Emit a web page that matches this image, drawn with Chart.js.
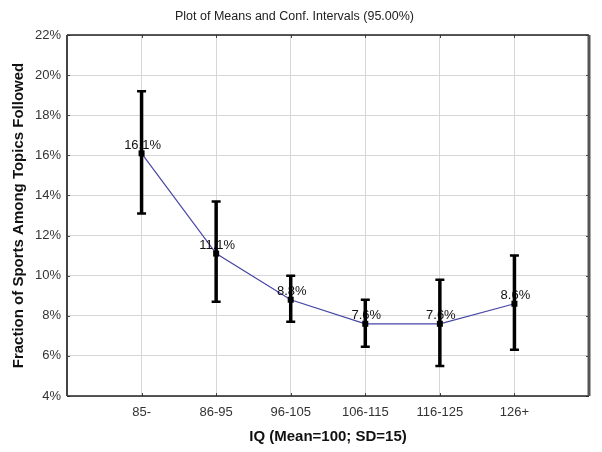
<!DOCTYPE html>
<html>
<head>
<meta charset="utf-8">
<script src="https://cdn.jsdelivr.net/npm/chart.js@4"></script>
<style>
  html, body { margin: 0; padding: 0; background: #fff; }
  #wrap { width: 602px; height: 452px; }
</style>
</head>
<body>
<div id="wrap"><canvas id="means-chart" width="602" height="452"></canvas></div>
<script>
// data
const groups = ["85-", "86-95", "96-105", "106-115", "116-125", "126+"];
const means = [16.1, 11.1, 8.8, 7.6, 7.6, 8.6];
const upper = [19.2, 13.7, 10.0, 8.8, 9.8, 11.0];
const lower = [13.1, 8.7, 7.7, 6.45, 5.5, 6.3];
const yTicks = [4, 6, 8, 10, 12, 14, 16, 18, 20, 22];

const points = means.map((v, i) => ({ x: i + 1, y: v }));
const FONT = "'Liberation Sans', Arial, sans-serif";

// error bars, value labels and frame
const meanPlot = {
  id: "meanPlot",
  afterDatasetsDraw(chart) {
    const ctx = chart.ctx;
    const xs = chart.scales.x;
    const ys = chart.scales.y;
    const a = chart.chartArea;
    ctx.save();

    // value labels (drawn first, bars go over them)
    ctx.font = "13px " + FONT;
    ctx.fillStyle = "#111";
    ctx.textAlign = "center";
    ctx.textBaseline = "middle";
    means.forEach((v, i) => {
      const px = xs.getPixelForValue(i + 1);
      const py = ys.getPixelForValue(v);
      ctx.fillText(v.toFixed(1) + "%", px + 1, py - 8);
    });

    // whiskers
    ctx.strokeStyle = "#000";
    groups.forEach((g, i) => {
      const px = xs.getPixelForValue(i + 1);
      const top = ys.getPixelForValue(upper[i]);
      const bot = ys.getPixelForValue(lower[i]);
      ctx.lineWidth = 3.5;
      ctx.beginPath();
      ctx.moveTo(px, top);
      ctx.lineTo(px, bot);
      ctx.stroke();
      ctx.lineWidth = 2.5;
      ctx.beginPath();
      ctx.moveTo(px - 4.5, top);
      ctx.lineTo(px + 4.5, top);
      ctx.moveTo(px - 4.5, bot);
      ctx.lineTo(px + 4.5, bot);
      ctx.stroke();
      // mean marker
      const py = ys.getPixelForValue(means[i]);
      ctx.fillStyle = "#000";
      ctx.fillRect(px - 3, py - 3, 6, 6);
    });

    // small inward ticks
    ctx.strokeStyle = "#444";
    ctx.lineWidth = 1;
    ctx.beginPath();
    for (let i = 1; i <= groups.length; i++) {
      const px = Math.round(xs.getPixelForValue(i)) + 0.5;
      ctx.moveTo(px, a.bottom); ctx.lineTo(px, a.bottom - 3);
      ctx.moveTo(px, a.top); ctx.lineTo(px, a.top + 3);
    }
    yTicks.forEach((t) => {
      const py = Math.round(ys.getPixelForValue(t)) + 0.5;
      ctx.moveTo(a.left, py); ctx.lineTo(a.left + 3, py);
      ctx.moveTo(a.right, py); ctx.lineTo(a.right - 3, py);
    });
    ctx.stroke();

    // frame round the plot area
    ctx.lineWidth = 1.5;
    ctx.strokeStyle = "#222";
    ctx.beginPath();
    ctx.moveTo(a.left, a.top); ctx.lineTo(a.right, a.top);
    ctx.moveTo(a.left, a.bottom); ctx.lineTo(a.right, a.bottom);
    ctx.stroke();
    ctx.lineWidth = 2;
    ctx.strokeStyle = "#444";
    ctx.beginPath();
    ctx.moveTo(a.left, a.top); ctx.lineTo(a.left, a.bottom);
    ctx.stroke();
    ctx.lineWidth = 3;
    ctx.strokeStyle = "#555";
    ctx.beginPath();
    ctx.moveTo(a.right, a.top); ctx.lineTo(a.right, a.bottom);
    ctx.stroke();
    ctx.restore();
  },
};

const ctx = document.getElementById("means-chart").getContext("2d");
new Chart(ctx, {
  type: "line",
  data: {
    datasets: [
      {
        data: points,
        borderColor: "#4646a6",
        borderWidth: 1.2,
        pointRadius: 0,
        fill: false,
        tension: 0,
      },
    ],
  },
  options: {
    responsive: false,
    animation: false,
    layout: { padding: { right: 13, left: 0, bottom: 0, top: 0 } },
    plugins: {
      legend: { display: false },
      tooltip: { enabled: false },
      title: {
        display: true,
        text: "Plot of Means and Conf. Intervals (95.00%)",
        color: "#222",
        font: { family: FONT, size: 12.5, weight: "normal" },
        padding: { top: 9, bottom: 11 },
      },
    },
    scales: {
      x: {
        type: "linear",
        min: 0,
        max: 7,
        afterFit: (scale) => { scale.height = 56; },
        afterBuildTicks: (scale) => {
          scale.ticks = [0, 1, 2, 3, 4, 5, 6, 7].map((v) => ({ value: v }));
        },
        ticks: {
          color: "#333",
          font: { family: FONT, size: 13 },
          padding: 9,
          maxRotation: 0,
          autoSkip: false,
          callback: (v) => groups[v - 1] || "",
        },
        grid: { color: "#d6d6d6", lineWidth: 1, drawTicks: false },
        border: { display: false },
        title: {
          display: true,
          text: "IQ (Mean=100; SD=15)",
          color: "#111",
          font: { family: FONT, size: 15, weight: "bold" },
          padding: { top: 4, bottom: 6 },
        },
      },
      y: {
        min: 4,
        max: 22,
        afterFit: (scale) => { scale.width = 67; },
        afterBuildTicks: (scale) => {
          scale.ticks = yTicks.map((v) => ({ value: v }));
        },
        ticks: {
          color: "#333",
          font: { family: FONT, size: 13 },
          padding: 6,
          callback: (v) => v + "%",
        },
        grid: { color: "#d6d6d6", lineWidth: 1, drawTicks: false },
        border: { display: false },
        title: {
          display: true,
          text: "Fraction of Sports Among Topics Followed",
          color: "#111",
          font: { family: FONT, size: 15, weight: "bold" },
          padding: { top: 10, bottom: 0 },
        },
      },
    },
  },
  plugins: [meanPlot],
});
</script>
</body>
</html>
